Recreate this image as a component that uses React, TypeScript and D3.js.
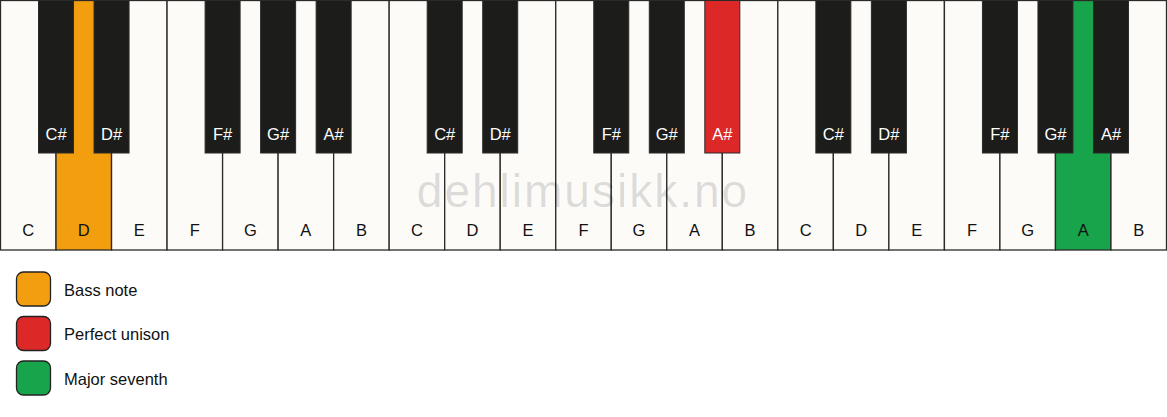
import React from "react";
import * as d3 from "d3";

const WHITE_NOTES = ["C", "D", "E", "F", "G", "A", "B"];
const OCTAVES = [0, 1, 2];
const BLACK_AFTER = ["C#", "D#", "", "F#", "G#", "A#", ""];
// highlighted keys: [octave, note, role]
const HIGHLIGHTS: [number, string, string][] = [
  [0, "D", "bass"],
  [1, "A#", "unison"],
  [2, "A", "seventh"],
];
const LEGEND_KEYS = ["bass", "unison", "seventh"];
const LEGEND_LABELS = ["Bass note", "Perfect unison", "Major seventh"];
const LEGEND_COLORS = ["#f39e0f", "#dd2828", "#18a44b"];
const WATERMARK = "dehlimusikk.no";

const W = 1167;
const H = 417;

export default function App() {
  const whiteKeys = OCTAVES.flatMap((o) => WHITE_NOTES.map((n) => ({ o, n })));
  const x = d3.scaleLinear().domain([0, whiteKeys.length]).range([0.5, W - 0.5]);
  const keyTop = 0.5;
  const keyBottom = 250;
  const blackBottom = 153;
  const blackW = 35;
  const color = d3.scaleOrdinal<string, string>().domain(LEGEND_KEYS).range(LEGEND_COLORS);
  const hl = (o: number, n: string) => {
    const h = HIGHLIGHTS.find((d) => d[0] === o && d[1] === n);
    return h ? color(h[2]) : null;
  };
  const blackKeys = whiteKeys
    .map((k, i) => ({ ...k, i, n: BLACK_AFTER[WHITE_NOTES.indexOf(k.n)] }))
    .filter((k) => k.n !== "");
  const font = "Liberation Sans, Arial, sans-serif";
  const ly = d3.scalePoint().domain(LEGEND_KEYS).range([289, 378]);

  return (
    <svg width={W} height={H} style={{ position: "absolute", left: 0, top: 0, fontFamily: font }}>
      <rect x={0} y={0} width={W} height={H} fill="#ffffff" />
      {whiteKeys.map((k, i) => {
        const c = hl(k.o, k.n);
        return (
          <rect
            key={"w" + i}
            x={x(i)}
            y={keyTop}
            width={x(i + 1) - x(i)}
            height={keyBottom - keyTop}
            fill={c || "#fcfbf8"}
            stroke="#2a2a28"
            strokeWidth={1.3}
          />
        );
      })}
      <text
        x={583}
        y={207}
        textAnchor="middle"
        fontSize={46}
        letterSpacing={2}
        fill="#000"
        fillOpacity={0.13}
      >
        {WATERMARK}
      </text>
      {whiteKeys.map((k, i) => (
        <text
          key={"wl" + i}
          x={(x(i) + x(i + 1)) / 2}
          y={236}
          textAnchor="middle"
          fontSize={16.5}
          fill="#111"
        >
          {k.n}
        </text>
      ))}
      {blackKeys.map((k) => {
        const c = hl(k.o, k.n);
        const cx = x(k.i + 1);
        return (
          <g key={"b" + k.i}>
            <rect
              x={cx - blackW / 2}
              y={keyTop}
              width={blackW}
              height={blackBottom - keyTop}
              fill={c || "#1c1c1a"}
              stroke="#2a2a28"
              strokeWidth={1}
            />
            <text x={cx} y={139.5} textAnchor="middle" fontSize={16.5} fill="#ffffff">
              {k.n}
            </text>
          </g>
        );
      })}
      {LEGEND_KEYS.map((k, i) => (
        <g key={"l" + k}>
          <rect
            x={16.5}
            y={(ly(k) as number) - 17}
            width={34}
            height={34}
            rx={7}
            fill={color(k)}
            stroke="#222"
            strokeWidth={1.3}
          />
          <text x={64} y={(ly(k) as number) + 6.5} fontSize={16.5} fill="#111">
            {LEGEND_LABELS[i]}
          </text>
        </g>
      ))}
    </svg>
  );
}
